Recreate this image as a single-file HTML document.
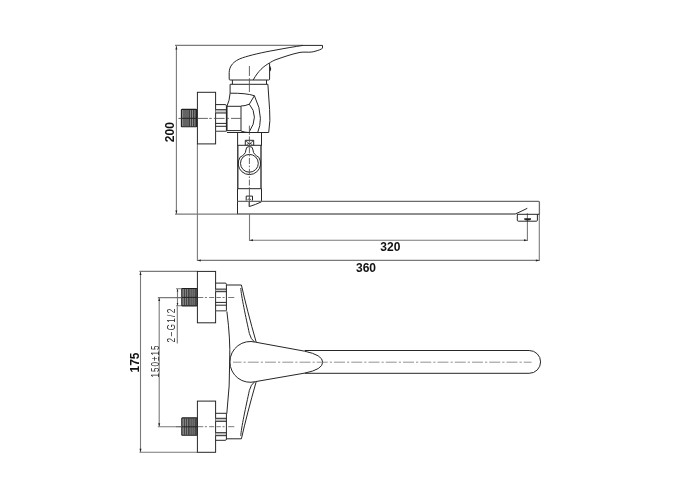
<!DOCTYPE html>
<html><head><meta charset="utf-8">
<style>
html,body{margin:0;padding:0;background:#fff;width:700px;height:500px;overflow:hidden}
body{filter:grayscale(1)}
svg{display:block}
text{font-family:"Liberation Sans",sans-serif}
</style></head>
<body>
<svg width="700" height="500" viewBox="0 0 700 500">
<defs>
  <g id="nip">
    <rect x="0" y="0" width="15.2" height="17.4" rx="0.6" fill="#8a8a8a" stroke="#1e1e1e" stroke-width="1.1"/>
    <path d="M2.6 0.5V16.9M4.6 0.5V16.9M6.6 0.5V16.9M8.1 0.5V16.9M10.1 0.5V16.9M12.1 0.5V16.9M13.8 0.5V16.9" stroke="#333" stroke-width="0.85"/>
    <path d="M0 8.9H15.2" stroke="#222" stroke-width="1"/>
  </g>
</defs>
<rect width="700" height="500" fill="#fff"/>

<!-- ================= TOP VIEW (elevation) ================= -->
<g fill="none" stroke="#7a7a7a" stroke-width="1.1">
  <!-- 200 dimension -->
  <path d="M175 45.4H303"/>
  <path d="M175 214.1H238"/>
  <path d="M176.4 46V214"/>
  <!-- 360 dimension -->
  <path d="M197.4 144V261"/>
  <path d="M539.3 214V261"/>
  <path d="M197.4 260.4H539.3"/>
  <!-- 320 dimension -->
  <path d="M249.5 213.8V241"/>
  <path d="M527.4 213.3V241"/>
  <path d="M249.5 240.3H527.4"/>
</g>
<g fill="#222">
  <path d="M176.4 46.2l-1 3.2h2z"/>
  <path d="M176.4 213.8l-1 -3.2h2z"/>
  <path d="M249.8 240.3l3.2 -1v2z"/>
  <path d="M527.2 240.3l-3.2 -1v2z"/>
  <path d="M197.6 260.4l3.2 -1v2z"/>
  <path d="M539.1 260.4l-3.2 -1v2z"/>
</g>
<g font-weight="bold" font-size="12" fill="#111" text-anchor="middle">
  <text transform="translate(174.3 132.2) rotate(-90)">200</text>
  <text x="390.3" y="251.1">320</text>
  <text x="366" y="271.7">360</text>
</g>

<g fill="none" stroke="#262626" stroke-width="1">
  <!-- flange -->
  <rect x="197.4" y="92.3" width="18.2" height="51.6"/>
  <!-- nut rings -->
  <rect x="215.6" y="109.7" width="10.8" height="3.3" fill="#d0d0d0" stroke="none"/>
  <path d="M215.6 104.6H225.2Q226.4 104.6 226.4 105.8V131.3M215.6 109.7H226.4M215.6 113H226.4M215.6 123.4H226.4M215.6 126.3H226.4"/>
  <path d="M215.6 131.3H226.4" stroke="#666" stroke-width="1.3"/>
  <!-- body nut -->
  <path d="M226.8 106.3V130.6" stroke-width="1.5"/>
  <path d="M227 106.3H241M227 130.6H241M241 106.3V130.6"/>
  <path d="M241 131Q245 132.5 249 132.5"/>
  <!-- handle base & collar -->
  <path d="M230 80H268.7Q269.6 80 269.6 79.1V63.2"/>
  <path d="M229.2 79.1Q229.2 80 230 80"/>
  <path d="M232.4 80V84.3M266.5 80V84.3"/>
  <path d="M269.9 66.6Q271.2 68.8 269.9 71" stroke-width="1.2"/>
  <!-- body -->
  <path d="M230.1 84.3H267.9"/>
  <path d="M230.1 84.3V93.2Q229.5 101 227 106"/>
  <path d="M230.1 93.2Q246 93 254.4 95.7L249.3 104.2Q245 106 241 106"/>
  <path d="M249.3 104.2Q254.4 110 254.4 117.2Q254.4 124 249.3 131.8"/>
  <path d="M254.4 95.7Q260.4 108 260.4 118.3Q260.4 126 257.7 132.5"/>
  <path d="M267.9 84.3L269.6 109.5Q270.6 120 268.7 132.5"/>
  <path d="M227 132.5H268.7"/>
  <!-- handle -->
  <path d="M229.2 79.1V72.4C229.3 66.5 233 61 242.5 57.8C250 55.3 262 52.4 276 50C285 48.3 295 46.6 303 45.4H322.5V48.2C321 49.5 318.5 50.3 316 51C313 52 310.5 52.2 308.3 52.2C305 52.1 303 52 300 52.4C292 54 284 56.8 276 59.6C273 60.7 271 62 269.2 63.2C264 66 258 71 253.2 80"/>
  <!-- cartridge -->
  <rect x="237.6" y="132.5" width="23.9" height="12.8"/>
  <path d="M245.3 145.3V140.3H253.7V145.3"/>
  <path d="M245.5 140.5L249.5 144M253.5 140.5L249.5 144M246.5 145Q249.5 141.5 252.5 145" stroke-width="0.8"/>
  <path d="M237.8 145.3V188.7M261 145.3V188.7" stroke-width="1.3"/>
  <circle cx="249.4" cy="163.3" r="8.9"/>
  <path d="M240 157.3C243.5 155.2 245.8 153.6 245.9 150A3.55 3.55 0 0 1 253 150C253.1 153.6 255.4 155.2 258.8 157.3A11.2 11.2 0 1 1 240 157.3Z"/>
  <!-- lower block -->
  <path d="M237.5 188.7H261.5V201.2M237.5 188.7V214"/>
  <path d="M246.2 200.6V196.1H252.5V200.6"/>
  <path d="M247.3 200.3Q249.3 197.2 251.3 200.3" stroke-width="0.8"/>
  <path d="M249.2 201V206.6Q256 204.5 261.5 201.8"/>
</g>
<g fill="none" stroke="#6a6a6a" stroke-width="1.3">
  <path d="M237.5 201.3H538.5Q539.4 201.3 539.4 202.2V214.3"/>
  <path d="M237.5 214H515.2"/>
</g>
<g fill="none" stroke="#262626" stroke-width="1">
  <path d="M515.2 214Q521 211.5 527.3 208.3"/>
  <!-- aerator -->
  <path d="M517 214.3H539.4M517.3 214.3V220.2Q517.3 221.2 518.3 221.2H536.4Q537.4 221.2 537.4 220.2V214.3"/>
</g>
<path d="M524.2 218.2H531V219.6Q530 220.6 527.6 220.6Q525.2 220.6 524.2 219.6Z" fill="#222"/>
<!-- nipple top view -->
<use href="#nip" x="181.4" y="109.4"/>

<!-- centerlines top -->
<g fill="none" stroke="#555" stroke-width="0.9">
  <path d="M178.4 118.4H181.4M197.4 118.4H207.9M209.3 118.4H211.8M213.9 118.4H224.6M227.1 118.4H228.9M231 118.4H241"/>
</g>
<g fill="none" stroke="#555" stroke-width="0.9" stroke-dasharray="6 1.6 1.6 1.6">
  <path d="M249.4 125.6V188.7"/>
</g>
<g fill="none" stroke="#555" stroke-width="0.9">
  <path d="M249.4 66V76M249.4 78.2V92"/>
  <path d="M249.4 188.7V206.6"/>
</g>

<!-- ================= BOTTOM VIEW (plan) ================= -->
<g fill="none" stroke="#7a7a7a" stroke-width="1.1">
  <path d="M139.4 271.4H197.4M139.4 452.3H197.4"/>
  <path d="M140.5 272V452"/>
  <path d="M157.8 297.6H181.8M157.8 426.7H181.8"/>
  <path d="M159.2 298V426.5"/>
  <path d="M177.5 288.7V306.5M176 288.7H181.8M176 305.8H181.8"/>
  <path d="M177.3 306.5V343.5"/>
</g>
<g fill="#222">
  <path d="M140.5 271.8l-1 3.2h2z"/>
  <path d="M140.5 452l-1 -3.2h2z"/>
  <path d="M159.2 297.9l-1 3.2h2z"/>
  <path d="M159.2 426.4l-1 -3.2h2z"/>
  <path d="M177.5 289l-0.8 2.6h1.6z"/>
  <path d="M177.5 305.5l-0.8 -2.6h1.6z"/>
</g>
<g font-weight="bold" font-size="12" fill="#111" text-anchor="middle">
  <text transform="translate(138.7 362.5) rotate(-90)">175</text>
</g>
<g font-size="10" fill="#2a2a2a">
  <text transform="translate(159 377.4) rotate(-90) scale(0.8 1)" letter-spacing="1.3">150±15</text>
  <text transform="translate(175.3 342.6) rotate(-90) scale(0.8 1)" font-size="10.4" letter-spacing="1.6">2−G1/2</text>
</g>

<g fill="none" stroke="#262626" stroke-width="1">
  <rect x="197.4" y="271.4" width="18.2" height="51.4"/>
  <rect x="197.4" y="401.1" width="18.2" height="51.2"/>
  <rect x="215.6" y="289.1" width="10.8" height="2.6" fill="#d0d0d0" stroke="none"/>
  <path d="M215.6 283.1H225.2Q226.4 283.1 226.4 284.3V310.8M215.6 289.1H226.4M215.6 291.7H226.4M215.6 302.4H226.4M215.6 305.2H226.4"/>
  <path d="M215.6 310.8H226.4" stroke="#666" stroke-width="1.3"/>
  <rect x="215.6" y="418.3" width="10.8" height="3" fill="#d0d0d0" stroke="none"/>
  <rect x="215.6" y="432.7" width="10.8" height="3" fill="#d0d0d0" stroke="none"/>
  <path d="M215.6 413.3H226.4V439.1Q226.4 440.3 225.2 440.3H215.6M215.6 418.3H226.4M215.6 421.3H226.4M215.6 432.7H226.4M215.6 435.7H226.4"/>
  <path d="M226.4 285H241.4Q247 310 256.2 342.2"/>
  <path d="M240.8 288C241 295 246 318 249.4 333.6Q251 339.5 254.4 341.9"/>
  <path d="M226.9 311.5Q230.5 340 229.7 360Q230 385 226.8 413.7"/>
  <path d="M226.4 438.8H241.4Q247 413.9 256.2 381.7"/>
  <path d="M240.8 435.9C241 428.9 246 405.9 249.4 390.3Q251 384.4 254.4 382"/>
  <!-- handle -->
  <path d="M255.6 342.2L304.7 351.2Q322.7 355 322.7 362.2Q322.7 369.5 304.7 373.1L255.6 381.6A20.4 20.4 0 1 1 255.6 342.2Z"/>
  <path d="M304.7 350.5H529.2A11.4 11.4 0 0 1 529.2 373.3H304.7"/>
</g>
<use href="#nip" x="181.8" y="288.5"/>
<use href="#nip" x="181.8" y="417.9"/>
<g fill="none" stroke="#6a6a6a" stroke-width="0.9">
  <path d="M176 297.5H181.8M197.9 297.5H203.3M204.9 297.5H206.9M209.2 297.5H214.2M216.4 297.5H220.8M222.5 297.5H224.6M228.2 297.5H234.3"/>
  <path d="M176 426.7H181.8M197.9 426.7H203.3M204.9 426.7H206.9M209.2 426.7H214.2M216.4 426.7H220.8M222.5 426.7H224.6M228.2 426.7H234.3"/>
</g>
<g fill="none" stroke="#777" stroke-width="0.8" stroke-dasharray="11 2 2.25 2" stroke-dashoffset="2.5">
  <path d="M233 362.2H531.6"/>
</g>
</svg>
</body></html>
